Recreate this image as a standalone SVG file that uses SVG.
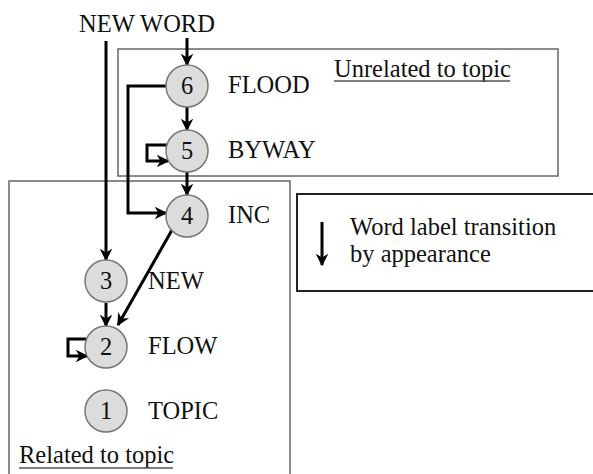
<svg xmlns="http://www.w3.org/2000/svg" width="593" height="474" viewBox="0 0 593 474">
<defs>
<style>
.t{font-family:'Liberation Serif','Times New Roman',serif;font-size:24.5px;fill:#111}
.n{font-family:'Liberation Serif','Times New Roman',serif;font-size:24.5px;fill:#111;text-anchor:middle}
.c{fill:#dcdcdc;stroke:#777;stroke-width:1.5}
.box{fill:none;stroke:#666;stroke-width:1.5}
.e{fill:none;stroke:#000;stroke-width:3;marker-end:url(#ah)}
</style>
<marker id="ah" viewBox="0 0 10 10" refX="9" refY="5" markerWidth="4.2" markerHeight="4.2" orient="auto" markerUnits="strokeWidth">
<path d="M0,0 L10,5 L0,10 L3,5 z" fill="#000"/>
</marker>
</defs>
<rect class="box" x="118" y="49" width="440" height="127"/>
<rect class="box" x="9" y="181" width="281" height="300"/>
<rect x="297" y="194" width="300" height="97" fill="none" stroke="#222" stroke-width="2"/>
<text class="t" x="79" y="32">NEW WORD</text>
<text class="t" x="334" y="77">Unrelated to topic</text>
<line x1="334" y1="81" x2="510" y2="81" stroke="#555" stroke-width="1.5"/>
<text class="t" x="19" y="463">Related to topic</text>
<line x1="19" y1="468" x2="173" y2="468" stroke="#555" stroke-width="1.5"/>
<g id="legend">
<line x1="322" y1="222" x2="322" y2="265" stroke="#000" stroke-width="3" marker-end="url(#ah)"/>
<text class="t" x="350" y="235">Word label transition</text>
<text class="t" x="350" y="262">by appearance</text>
</g>
<g id="connectors">
<line class="e" x1="187" y1="38" x2="187" y2="65"/>
<line class="e" x1="106" y1="41" x2="106" y2="260"/>
<path class="e" d="M166 86 H128 V213 H166"/>
<line class="e" x1="187" y1="107" x2="187" y2="130"/>
<path class="e" d="M167 145 H147 V161 H168"/>
<line class="e" x1="187" y1="172" x2="187" y2="195"/>
<line class="e" x1="172" y1="230" x2="118" y2="325"/>
<line class="e" x1="106" y1="303" x2="106" y2="326"/>
<path class="e" d="M86 339 H68 V356 H87"/>
</g>
<g id="n6"><circle class="c" cx="187" cy="86" r="21"/><text class="n" x="187" y="94">6</text><text class="t" x="228" y="93">FLOOD</text></g>
<g id="n5"><circle class="c" cx="187" cy="151" r="21"/><text class="n" x="187" y="159">5</text><text class="t" x="228" y="158">BYWAY</text></g>
<g id="n4"><circle class="c" cx="187" cy="216" r="21"/><text class="n" x="187" y="224">4</text><text class="t" x="228" y="223">INC</text></g>
<g id="n3"><circle class="c" cx="106" cy="281" r="21"/><text class="n" x="106" y="289">3</text><text class="t" x="148" y="289">NEW</text></g>
<g id="n2"><circle class="c" cx="106" cy="347" r="21"/><text class="n" x="106" y="355">2</text><text class="t" x="148" y="354">FLOW</text></g>
<g id="n1"><circle class="c" cx="106" cy="411" r="21"/><text class="n" x="106" y="419">1</text><text class="t" x="148" y="419">TOPIC</text></g>
</svg>
